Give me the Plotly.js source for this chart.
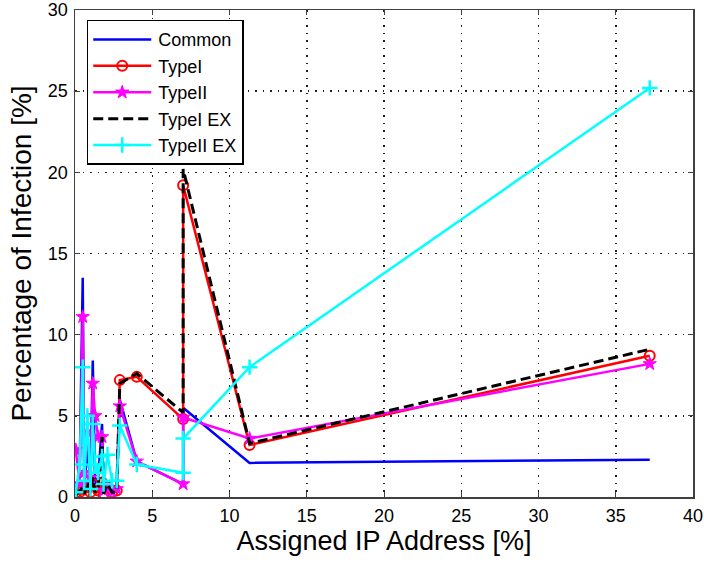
<!DOCTYPE html>
<html>
<head>
<meta charset="utf-8">
<script src="https://cdn.plot.ly/plotly-3.0.1.min.js"></script>
<style>html,body{margin:0;padding:0;background:#fff;}#chart{width:704px;height:562px;}</style>
</head>
<body>
<div id="chart"></div>
<script>
// Shared x positions (assigned IP address share, %)
const assignedIP = [0.05, 0.3, 0.5, 0.6, 0.8, 1.0, 1.15, 1.3, 1.5, 1.75, 1.85, 2.1, 2.4, 2.7, 2.9, 4.0, 7.0, 7.0, 11.3, 37.2];
// Percentage of infection per scenario
const common   = [0.2, 1.5, 13.5, 0.5, 3.0, 1.0, 8.4, 0.8, 1.2, 4.5, 0.4, 1.0, 0.3, 0.8, 6.0, 2.2, 0.8, 5.5, 2.1, 2.3];
const typeI    = [0.1, 0.3, 0.5, 0.2, 0.6, 0.3, 0.8, 0.2, 0.4, 0.9, 0.2, 0.6, 0.3, 0.4, 7.2, 7.4, 4.8, 19.2, 3.2, 8.7];
const typeII   = [2.9, 0.8, 11.1, 1.5, 4.0, 1.2, 7.0, 5.0, 3.7, 3.7, 0.4, 0.6, 0.3, 0.5, 5.6, 2.2, 0.8, 4.9, 3.6, 8.2];
const typeIEX  = [0.1, 0.4, 0.6, 0.2, 0.9, 0.3, 1.2, 0.3, 0.5, 3.7, 0.2, 0.8, 0.3, 0.3, 7.0, 7.6, 5.2, 20.2, 3.3, 9.1];
const typeIIEX = [0.3, 2.0, 8.0, 1.0, 5.0, 0.5, 4.5, 2.0, 1.5, 2.5, 0.8, 2.6, 1.0, 1.0, 4.4, 2.0, 1.5, 3.6, 8.0, 25.2];
const seriesNames = ["Common", "TypeI", "TypeII", "TypeI EX", "TypeII EX"];
const xTicks = [0, 5, 10, 15, 20, 25, 30, 35, 40];
const yTicks = [0, 5, 10, 15, 20, 25, 30];

const FONT = 'Liberation Sans, Arial, Helvetica, sans-serif';
const NARROW = 'Liberation Sans Narrow, Arial Narrow, Liberation Sans, sans-serif';

const traces = [
  {x: assignedIP, y: common, name: seriesNames[0], mode: 'lines',
   line: {color: '#0000ff', width: 2.5}},
  {x: assignedIP, y: typeI, name: seriesNames[1], mode: 'lines+markers',
   line: {color: '#ff0000', width: 2.5},
   marker: {symbol: 'circle-open', size: 10, color: '#ff0000', line: {width: 2, color: '#ff0000'}}},
  {x: assignedIP, y: typeII, name: seriesNames[2], mode: 'lines+markers',
   line: {color: '#ff00ff', width: 2.5},
   marker: {symbol: 'star', size: 10, color: '#ff00ff', line: {width: 1, color: '#ff00ff'}}},
  {x: assignedIP, y: typeIEX, name: seriesNames[3], mode: 'lines',
   line: {color: '#000000', width: 3, dash: '10px,5px'}},
  {x: assignedIP, y: typeIIEX, name: seriesNames[4], mode: 'lines+markers',
   line: {color: '#00ffff', width: 2.5},
   marker: {symbol: 'cross-thin-open', size: 11, color: '#00ffff', line: {width: 2.5, color: '#00ffff'}}}
];

const axisCommon = {
  showline: true, linecolor: '#404040', linewidth: 1.5, mirror: 'ticks',
  ticks: 'inside', ticklen: 5, tickcolor: '#404040',
  showgrid: true, gridcolor: '#222222', griddash: '1.5px,6px', gridwidth: 1.5,
  zeroline: false, tickfont: {family: NARROW, size: 18, color: '#000'}
};

const layout = {
  width: 704, height: 562,
  margin: {l: 75, r: 11, t: 10, b: 65},
  paper_bgcolor: '#ffffff', plot_bgcolor: '#ffffff',
  xaxis: Object.assign({}, axisCommon, {
    range: [0, 40], tickvals: xTicks, ticktext: xTicks.map(String), ticklabelstandoff: 2,
    title: {text: 'Assigned IP Address [%]', font: {family: FONT, size: 27, color: '#000'}, standoff: 6}
  }),
  yaxis: Object.assign({}, axisCommon, {
    range: [0, 30], tickvals: yTicks, ticktext: yTicks.map(String), ticklabelstandoff: 2,
    title: {text: 'Percentage of Infection [%]', font: {family: FONT, size: 28, color: '#000'}, standoff: 8}
  }),
  showlegend: true,
  legend: {
    x: 0.019, y: 0.98, xanchor: 'left', yanchor: 'top',
    bgcolor: '#ffffff', bordercolor: '#000000', borderwidth: 1.5,
    font: {family: FONT, size: 18, color: '#000'},
    itemwidth: 60
  }
};

Plotly.newPlot('chart', traces, layout, {displayModeBar: false, staticPlot: true}).then(function (gd) {
  // lengthen the legend line samples to look like the MATLAB legend
  gd.querySelectorAll('.legend .legendlines path').forEach(function (p) {
    p.setAttribute('d', 'M5,0h58');
  });
  gd.querySelectorAll('.legend .legendpoints path').forEach(function (p) {
    p.setAttribute('transform', 'translate(34,0)');
  });
});
</script>
</body>
</html>
